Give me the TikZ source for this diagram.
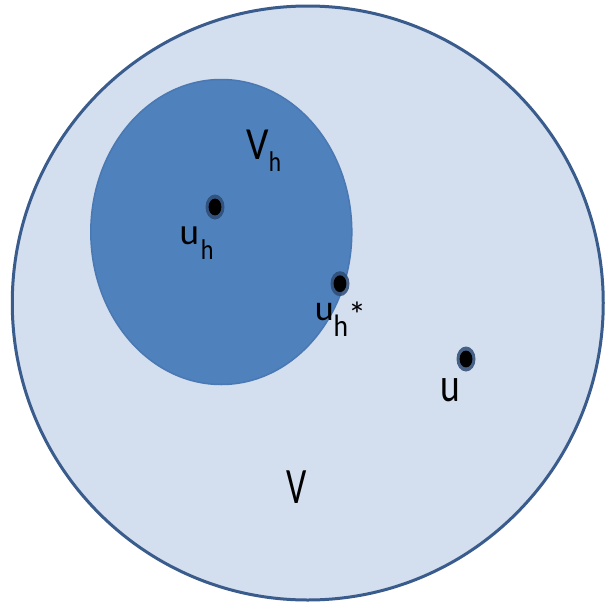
\documentclass[tikz,border=0pt]{standalone}
\usepackage{fontspec}
\usepackage{graphicx}
\setmainfont{Carlito}
\definecolor{outerfill}{HTML}{D3DEEE}
\definecolor{outerline}{HTML}{3A5C8C}
\definecolor{innerfill}{HTML}{4F81BD}
\definecolor{innerline}{HTML}{4A78B2}
\definecolor{halo}{HTML}{2F4C75}
\newcommand\glyphtext[3]{\scalebox{#2}[1]{\fontsize{#1}{#1}\selectfont #3}}
\begin{document}
\begin{tikzpicture}[x=1pt,y=-1pt,
  glyph/.style={inner sep=0pt,outer sep=0pt,anchor=base west,text=black},
  dothalo/.style={fill=halo,opacity=0.85},
  dotcore/.style={fill=black}]
\useasboundingbox (0,0) rectangle (605,606);
\fill[white] (0,0) rectangle (605,606);
% outer set V
\path[fill=outerfill,draw=outerline,line width=3pt] (307.75,303) ellipse [x radius=295.5, y radius=297];
% inner set V_h
\path[fill=innerfill,draw=innerline,line width=1.5pt] (221.3,232) ellipse [x radius=130.5, y radius=152.5];
% points
\coordinate (puh) at (215,207);
\coordinate (puhs) at (340,283.7);
\coordinate (pu) at (466,359);
\foreach \p in {puh,puhs,pu}{
  \fill[dothalo] (\p) ellipse [x radius=9.5, y radius=12.5];
  \fill[dotcore] (\p) ellipse [x radius=6.4, y radius=8.4];
}
% labels
\node[glyph] (Vh1) at (246.7,159.3) {\glyphtext{46}{0.86}{V}};
\node[glyph] (Vh2) at (268.8,171.7) {\glyphtext{28.5}{0.82}{h}};
\node[glyph] (uh1) at (179.7,244) {\glyphtext{37}{1}{u}};
\node[glyph] (uh2) at (200.8,259) {\glyphtext{28.5}{0.85}{h}};
\node[glyph] (us1) at (314.8,320) {\glyphtext{36}{1}{u}};
\node[glyph] (us2) at (333.5,336) {\glyphtext{31}{0.89}{h}};
\node[glyph] (us3) at (348,327) {\glyphtext{36}{1}{*}};
\node[glyph] (ul) at (440.3,401.7) {\glyphtext{48}{0.78}{u}};
\node[glyph] (Vl) at (286.7,503.3) {\glyphtext{51}{0.7}{V}};
\end{tikzpicture}
\end{document}
